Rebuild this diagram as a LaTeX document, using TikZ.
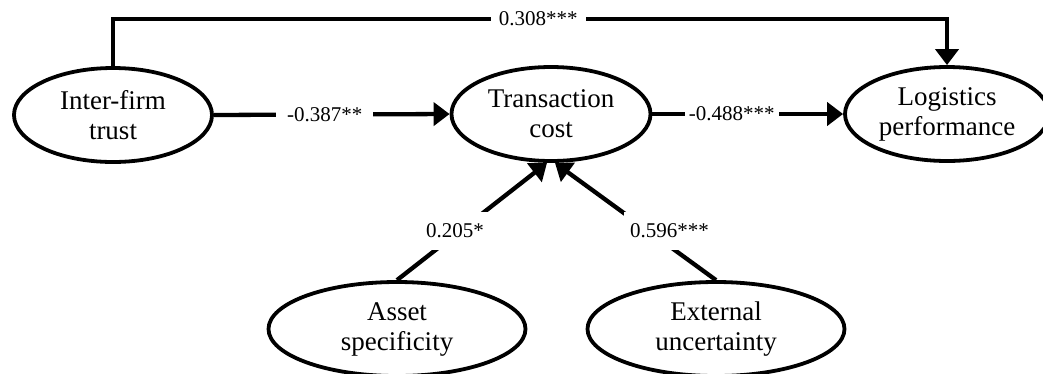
\documentclass[tikz,border=0pt]{standalone}
\usepackage{fontspec}
\setmainfont{Liberation Serif}
\usetikzlibrary{arrows.meta,shapes.geometric}
\begin{document}
\begin{tikzpicture}[x=1pt,y=-1pt,
  latent/.style={draw,ellipse,line width=3.8pt,inner sep=0pt,align=center,
    font=\fontsize{27}{30}\selectfont},
  conn/.style={line width=4.3pt,-{Triangle[length=16pt,width=23pt]}},
  lab/.style={fill=white,inner ysep=12pt,inner xsep=8pt,font=\fontsize{21}{24}\selectfont}]
\clip (0,0) rectangle (1043,373);
\node[latent,minimum width=198pt,minimum height=94pt] (ift) at (113,115) {Inter-firm\\trust};
\node[latent,minimum width=199pt,minimum height=94pt] (tc) at (551,114) {Transaction\\cost};
\node[latent,minimum width=204pt,minimum height=94pt] (lp) at (947,114) {Logistics\\performance};
\node[latent,minimum width=257pt,minimum height=94pt] (as) at (397,329) {Asset\\specificity};
\node[latent,minimum width=257pt,minimum height=94pt] (eu) at (716,329) {External\\uncertainty};
\coordinate (topy) at (0,19);
\draw[conn] (ift.north) -- (ift.north |- topy)
  -- node[lab,pos=0.51,inner xsep=8pt,inner ysep=4pt]{0.308***} (topy -| lp.north) -- (lp.north);
\draw[conn] (ift.east) -- node[lab,pos=0.47,inner xsep=11pt,inner ysep=4pt]{-0.387**} (tc.west);
\draw[conn] (tc.east) -- node[lab,pos=0.416,inner xsep=4pt,inner ysep=4pt]{-0.488***} (lp.west);
\draw[conn] (as.north) -- node[lab,pos=0.42,xshift=-5pt,inner xsep=6pt]{0.205*} ([xshift=-4pt]tc.south);
\draw[conn] (eu.north) -- node[lab,pos=0.42,xshift=21pt,inner xsep=6pt]{0.596***} ([xshift=4pt]tc.south);
\end{tikzpicture}
\end{document}
